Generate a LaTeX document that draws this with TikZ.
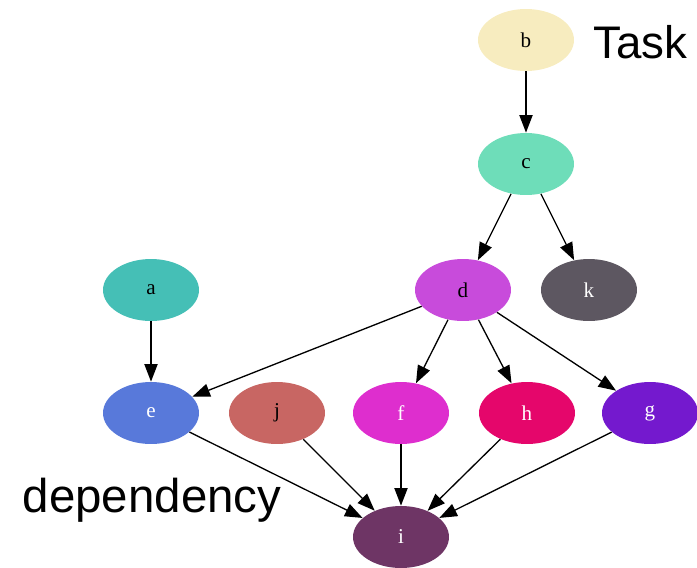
\documentclass[tikz,border=0pt]{standalone}
\usepackage{fontspec}
\setmainfont{Liberation Serif}
\newfontfamily\labelfont{Liberation Sans}
\usetikzlibrary{shapes.geometric,arrows.meta}

\definecolor{colb}{HTML}{F7ECBF}
\definecolor{colc}{HTML}{6EDDB9}
\definecolor{cola}{HTML}{45BFB6}
\definecolor{colk}{HTML}{5D5761}
\definecolor{cold}{HTML}{C84BDB}
\definecolor{cole}{HTML}{5879DA}
\definecolor{colj}{HTML}{C86663}
\definecolor{colf}{HTML}{DE2ECE}
\definecolor{colh}{HTML}{E5066B}
\definecolor{colg}{HTML}{7419CE}
\definecolor{coli}{HTML}{6E3565}

\tikzset{
    task/.style={ellipse, minimum width=1.92cm, minimum height=1.24cm, inner sep=0pt, font=\fontsize{12}{14}\selectfont},
    dep/.style={-{Triangle[length=10pt,width=7.5pt]}, line width=0.75pt}
}

\begin{document}
\begin{tikzpicture}[x=0.02cm, y=-0.02cm]
        \useasboundingbox (0,0) rectangle (697,568);

        \node[task, fill=colb] (b) at (526,40) {b};
        \node[task, fill=colc] (c) at (526,164) {c};
        \node[task, fill=cola] (a) at (151,290) {a};
        \node[task, fill=cold] (d) at (463,290) {d};
        \node[task, fill=colk, text=white] (k) at (589,290) {k};
        \node[task, fill=cole, text=white] (e) at (151,413) {e};
        \node[task, fill=colj] (j) at (277,413) {j};
        \node[task, fill=colf, text=white] (f) at (401,413) {f};
        \node[task, fill=colh, text=white] (h) at (527,413) {h};
        \node[task, fill=colg, text=white] (g) at (650,413) {g};
        \node[task, fill=coli, text=white] (i) at (401,537) {i};

        \node[anchor=west, font=\labelfont\fontsize{26}{30}\selectfont] (tasklabel) at (587,42) {Task}; % node label
        \node[font=\labelfont\fontsize{27}{31}\selectfont] (deplabel) at (152,500) {dependency}; % edge label

        \draw[dep] (b) -- (c);
        \draw[dep] (c) -- (d);
        \draw[dep] (c) -- (k);
        \draw[dep] (a) -- (e);
        \draw[dep] (d) -- (e);
        \draw[dep] (d) -- (f);
        \draw[dep] (d) -- (h);
        \draw[dep] (d) -- (g);
        \draw[dep] (e) -- (i);
        \draw[dep] (j) -- (i);
        \draw[dep] (f) -- (i);
        \draw[dep] (h) -- (i);
        \draw[dep] (g) -- (i);
        \end{tikzpicture}
\end{document}
